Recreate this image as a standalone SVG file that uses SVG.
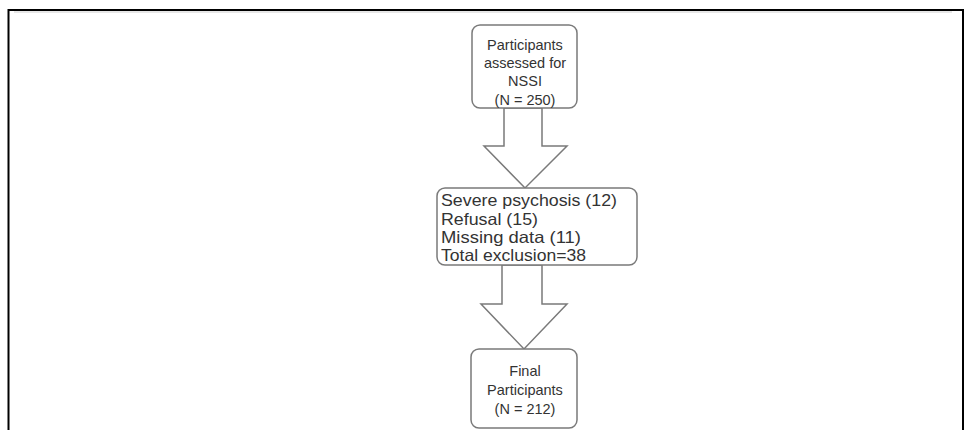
<svg xmlns="http://www.w3.org/2000/svg" width="965" height="430" viewBox="0 0 965 430">
<style>
.box{fill:#fff;stroke:#7a7a7a;stroke-width:1.5}
.arrow{fill:#fff;stroke:#7a7a7a;stroke-width:1.5;stroke-linejoin:miter}
.t{font-family:"Liberation Sans",Arial,sans-serif;font-size:14.5px;fill:#333}
.c{text-anchor:middle}
.t2{font-family:"Liberation Sans",Arial,sans-serif;font-size:16.5px;fill:#333}
</style>
<rect x="0" y="0" width="965" height="430" fill="#fff"/>
<g id="frame">
<path d="M8.5,430 V10 H963 V430" fill="none" stroke="#000" stroke-width="2"/>
<line x1="14" y1="12" x2="952" y2="12" stroke="#cfcfcf" stroke-width="1"/>
</g>
<g id="connectors">
<path class="arrow" d="M504,108 H542 V146 H567 L525,188 L484,146 H504 Z"/>
<path class="arrow" d="M502,265 H542 V304 H567 L524,349 L481,304 H502 Z"/>
</g>
<g id="node1">
<rect class="box" x="472" y="25" width="105" height="83" rx="8"/>
<text class="t c" x="525" y="50">Participants</text>
<text class="t c" x="525" y="68">assessed for</text>
<text class="t c" x="525" y="86">NSSI</text>
<text class="t c" x="525" y="105">(N = 250)</text>
</g>
<g id="node2">
<rect class="box" x="437" y="188" width="200" height="77" rx="8"/>
<text class="t2" x="441" y="206" textLength="176" lengthAdjust="spacingAndGlyphs">Severe psychosis (12)</text>
<text class="t2" x="441" y="224.5" textLength="97" lengthAdjust="spacingAndGlyphs">Refusal (15)</text>
<text class="t2" x="441" y="243" textLength="140" lengthAdjust="spacingAndGlyphs">Missing data (11)</text>
<text class="t2" x="441" y="261" textLength="145" lengthAdjust="spacingAndGlyphs">Total exclusion=38</text>
</g>
<g id="node3">
<rect class="box" x="471" y="349" width="106" height="79" rx="8"/>
<text class="t c" x="525" y="376">Final</text>
<text class="t c" x="525" y="395">Participants</text>
<text class="t c" x="525" y="414">(N = 212)</text>
</g>
</svg>
